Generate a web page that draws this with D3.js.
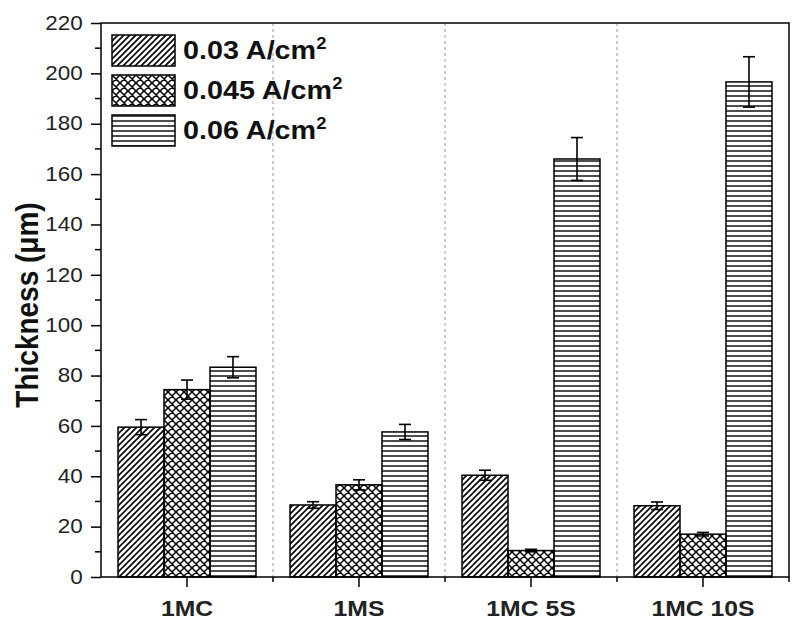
<!DOCTYPE html>
<html>
<head>
<meta charset="utf-8">
<script src="https://cdn.jsdelivr.net/npm/d3@7"></script>
<style>
  body { margin: 0; background: #fff; }
  svg { display: block; font-family: "Liberation Sans", Arial, sans-serif; }
</style>
</head>
<body>
<div id="chart"></div>
<script>
// data
const categories = ["1MC", "1MS", "1MC 5S", "1MC 10S"];
const series = ["0.03", "0.045", "0.06"];
const seriesLabels = ["0.03 A/cm", "0.045 A/cm", "0.06 A/cm"];
const values = {
  "0.03":  [59.5, 28.6, 40.4, 28.3],
  "0.045": [74.4, 36.6, 10.5, 17.0],
  "0.06":  [83.3, 57.6, 166.0, 196.6]
};
const errors = {
  "0.03":  [3.0, 1.3, 2.0, 1.5],
  "0.045": [3.8, 2.0, 0.5, 0.7],
  "0.06":  [4.2, 3.0, 8.5, 10.0]
};
const yTicks = d3.range(0, 221, 20);
const yMinorTicks = d3.range(10, 220, 20);

const width = 800, height = 625;
const margin = {top: 23, right: 11, bottom: 48, left: 101};
const SX = 1.15; // the figure's text is a bit wider than plain Arial

const svg = d3.select("#chart").append("svg")
    .attr("width", width)
    .attr("height", height);

const x = d3.scaleBand()
    .domain(categories)
    .range([margin.left, width - margin.right]);

const xInner = d3.scaleBand()
    .domain(series)
    .range([0, x.bandwidth()])
    .paddingInner(0)
    .paddingOuter(0.37);

const y = d3.scaleLinear()
    .domain([0, 220])
    .range([height - margin.bottom, margin.top]);

// fill patterns
const defs = svg.append("defs");
function pattern(id, size, d, sw) {
  defs.append("pattern")
      .attr("id", id)
      .attr("patternUnits", "userSpaceOnUse")
      .attr("width", size)
      .attr("height", size)
    .append("path")
      .attr("d", d)
      .attr("stroke", "#000")
      .attr("stroke-width", sw)
      .attr("fill", "none");
}
pattern("p0", 6, "M-1,7 L7,-1 M-1,1 L1,-1 M5,7 L7,5", 1.6);
pattern("p1", 8, "M-1,9 L9,-1 M-1,1 L1,-1 M7,9 L9,7 M-1,-1 L9,9 M-1,7 L1,9 M7,-1 L9,1", 1.5);
pattern("p2", 5, "M0,1 L5,1", 1.4);
const fills = {"0.03": "url(#p0)", "0.045": "url(#p1)", "0.06": "url(#p2)"};

// dashed group separators
svg.append("g")
  .selectAll("line")
  .data(categories.slice(1))
  .join("line")
    .attr("x1", d => x(d))
    .attr("x2", d => x(d))
    .attr("y1", y(220))
    .attr("y2", y(0))
    .attr("stroke", "#999")
    .attr("stroke-width", 1)
    .attr("stroke-dasharray", "3,3");

// bars
const rows = [];
categories.forEach((c, i) => {
  series.forEach(s => rows.push({cat: c, s: s, v: values[s][i], e: errors[s][i]}));
});

const bars = svg.append("g");
bars.selectAll("rect")
  .data(rows)
  .join("rect")
    .attr("x", d => x(d.cat) + xInner(d.s))
    .attr("y", d => y(d.v))
    .attr("width", xInner.bandwidth())
    .attr("height", d => y(0) - y(d.v))
    .attr("fill", d => fills[d.s])
    .attr("stroke", "#000")
    .attr("stroke-width", 1.5);

// error bars
const err = svg.append("g")
    .attr("stroke", "#000")
    .attr("stroke-width", 1.6)
  .selectAll("g")
  .data(rows)
  .join("g")
    .attr("transform", d => `translate(${x(d.cat) + xInner(d.s) + xInner.bandwidth() / 2},0)`);
err.append("line")
    .attr("y1", d => y(d.v + d.e))
    .attr("y2", d => y(d.v - d.e));
err.append("line")
    .attr("x1", -6).attr("x2", 6)
    .attr("y1", d => y(d.v + d.e))
    .attr("y2", d => y(d.v + d.e));
err.append("line")
    .attr("x1", -6).attr("x2", 6)
    .attr("y1", d => y(d.v - d.e))
    .attr("y2", d => y(d.v - d.e));

// frame
svg.append("rect")
    .attr("x", margin.left)
    .attr("y", margin.top)
    .attr("width", width - margin.left - margin.right)
    .attr("height", height - margin.top - margin.bottom)
    .attr("fill", "none")
    .attr("stroke", "#000")
    .attr("stroke-width", 1.5);

// y axis
const yAxis = svg.append("g")
    .attr("transform", `translate(${margin.left},0)`)
    .call(d3.axisLeft(y).tickValues(yTicks).tickSize(10).tickSizeOuter(0));
yAxis.select(".domain").remove();
yAxis.selectAll("line").attr("stroke-width", 1.5);
yAxis.selectAll("text")
    .attr("x", -16)
    .attr("transform", `scale(${SX},1)`)
    .style("font-size", "19.5px")
    .attr("fill", "#222");

svg.append("g")
    .attr("transform", `translate(${margin.left},0)`)
  .selectAll("line")
  .data(yMinorTicks)
  .join("line")
    .attr("x1", -6)
    .attr("x2", 0)
    .attr("y1", d => y(d))
    .attr("y2", d => y(d))
    .attr("stroke", "#000")
    .attr("stroke-width", 1.5);

// x axis
const xAxis = svg.append("g")
    .attr("transform", `translate(0,${y(0)})`)
    .call(d3.axisBottom(x).tickSize(10).tickSizeOuter(0).tickPadding(14));
xAxis.select(".domain").remove();
xAxis.selectAll("line").attr("stroke-width", 1.5);
xAxis.selectAll("text")
    .attr("transform", `scale(${SX},1)`)
    .style("font-size", "21.5px")
    .style("font-weight", "bold")
    .attr("fill", "#222");

// short ticks at group boundaries
svg.append("g")
  .selectAll("line")
  .data(categories.slice(1).map(c => x(c)).concat([x.range()[1]]))
  .join("line")
    .attr("x1", d => d)
    .attr("x2", d => d)
    .attr("y1", y(0))
    .attr("y2", y(0) + 5)
    .attr("stroke", "#000")
    .attr("stroke-width", 1.5);

// y label
svg.append("text")
    .attr("transform", `translate(38,${(y(0) + y(220)) / 2 + 5}) rotate(-90) scale(1,${SX})`)
    .attr("text-anchor", "middle")
    .style("font-size", "28px")
    .style("font-weight", "bold")
    .attr("fill", "#111")
    .text("Thickness (μm)");

// legend
const legend = svg.append("g")
  .selectAll("g")
  .data(series)
  .join("g")
    .attr("transform", (d, i) => `translate(112,${35 + i * 40})`);
legend.append("rect")
    .attr("width", 63)
    .attr("height", 31)
    .attr("fill", d => fills[d])
    .attr("stroke", "#000")
    .attr("stroke-width", 1.5);
const lt = legend.append("text")
    .attr("transform", `translate(71,24) scale(${SX},1)`)
    .style("font-size", "25px")
    .style("font-weight", "bold")
    .attr("fill", "#111");
lt.append("tspan").text((d, i) => seriesLabels[i]);
lt.append("tspan")
    .attr("dy", -10)
    .style("font-size", "16px")
    .text("2");
</script>
</body>
</html>
